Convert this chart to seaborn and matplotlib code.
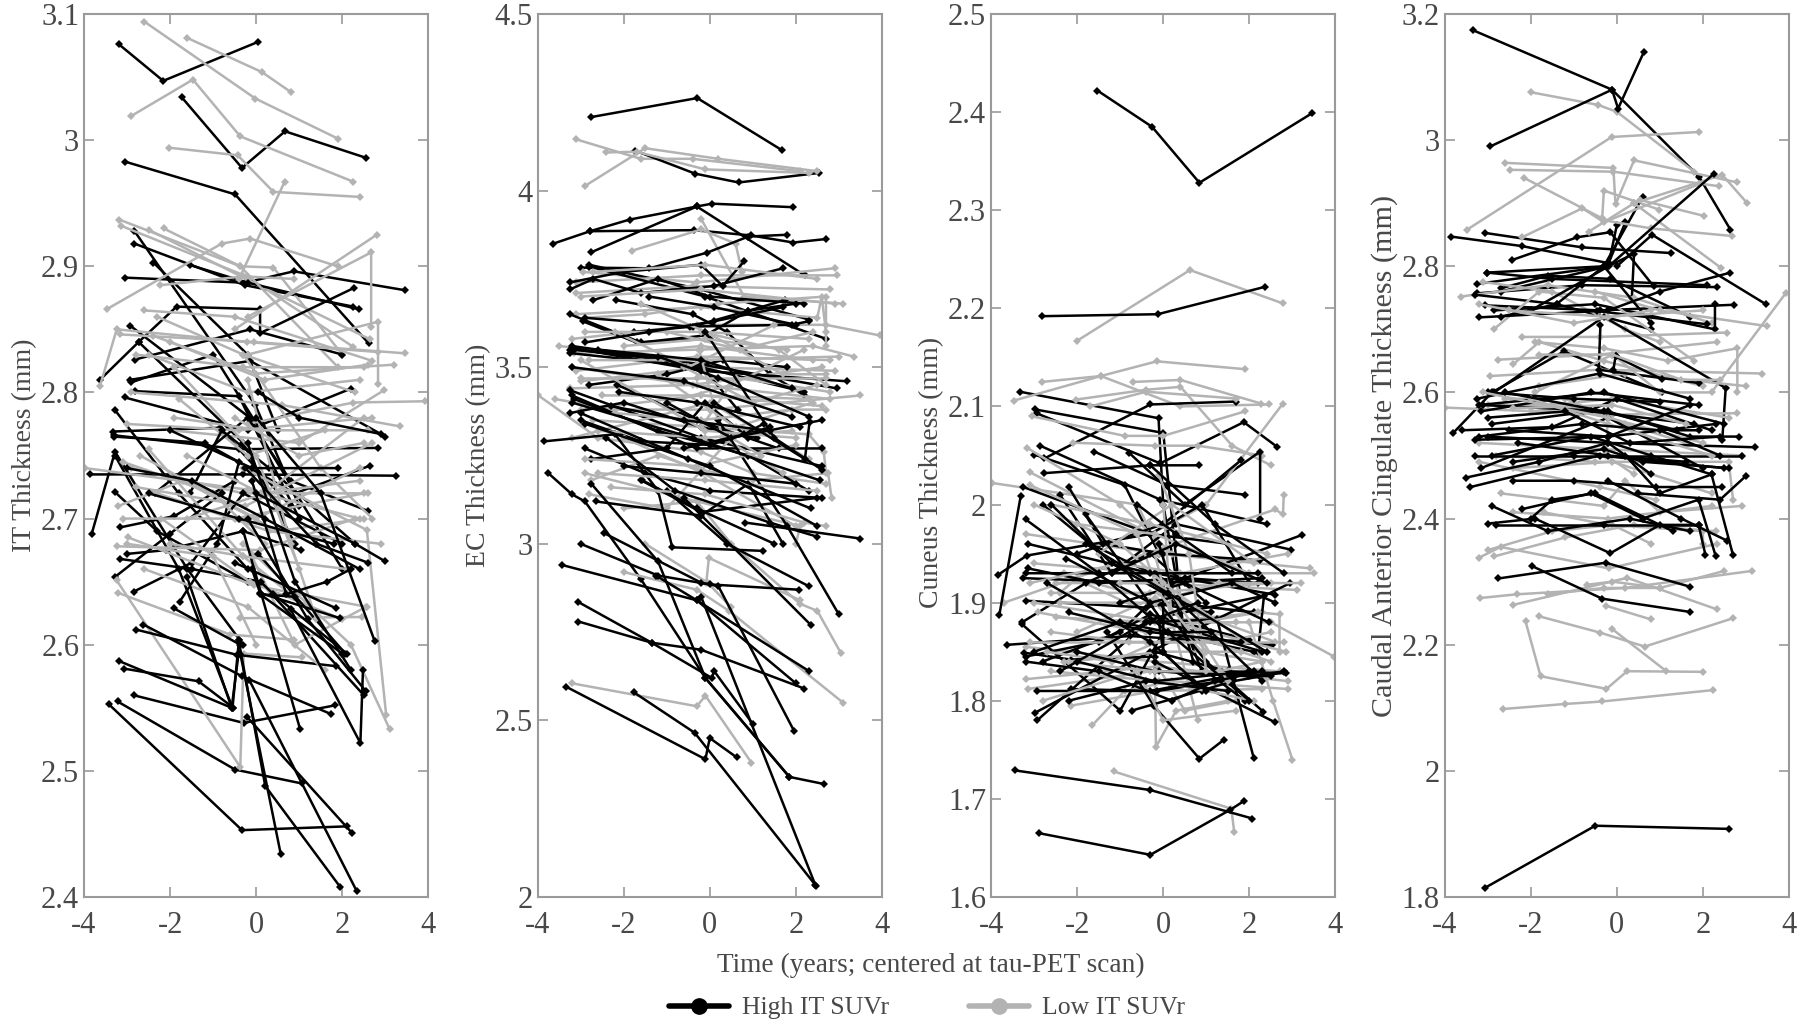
import matplotlib
matplotlib.use("Agg")
import matplotlib.pyplot as plt
from matplotlib.lines import Line2D
import pandas as pd
import seaborn as sns

# each subject: t1, y1, t2, y2, ...
it_high = [
    (-3.19,3.076,-2.16,3.047,0.05,3.078),
    (-1.73,3.034,-0.33,2.978,0.67,3.007,2.55,2.986),
    (-3.05,2.983,-0.49,2.957,2.61,2.839),
    (-2.83,2.928,-0.02,2.79,1.0,2.71),
    (-2.83,2.918,-0.26,2.885,2.26,2.868),
    (-2.39,2.903,-0.2,2.83,0.5,2.77),
    (-3.05,2.891,-0.26,2.887,0.87,2.896,3.46,2.881),
    (-1.54,2.901,-0.2,2.887,2.38,2.866),
    (-3.63,2.81,-2.73,2.84,-1.85,2.868,0.09,2.866,0.09,2.847,2.28,2.883),
    (-2.93,2.853,-0.15,2.78,2.0,2.66),
    (-2.73,2.84,-0.3,2.76,0.9,2.68),
    (-2.82,2.826,-0.14,2.85,2.0,2.83),
    (-2.93,2.81,-0.14,2.825,3.0,2.765),
    (-2.9,2.808,-1.0,2.83,0.1,2.77),
    (-2.81,2.801,-0.4,2.797,1.0,2.7),
    (-3.05,2.796,-0.2,2.77,2.2,2.803),
    (-3.28,2.786,-1.8,2.72,-0.2,2.66),
    (-3.33,2.769,-0.85,2.772,0.8,2.71),
    (-3.3,2.766,-0.4,2.755,2.82,2.756),
    (-3.3,2.765,-1.2,2.76,0.9,2.72,2.65,2.742),
    (-3.28,2.75,-1.8,2.66,-0.55,2.55,-0.4,2.604),
    (-3.82,2.688,-3.28,2.753,-1.6,2.66,-0.3,2.6),
    (-3.86,2.735,-0.3,2.735,3.24,2.734),
    (-3.28,2.721,-2.3,2.69,-0.2,2.65),
    (-2.36,2.72,-0.2,2.78,0.8,2.73,2.6,2.706),
    (-1.54,2.72,-0.8,2.77,0.3,2.74,2.3,2.68),
    (-3.16,2.693,-1.9,2.702,-0.5,2.73),
    (-3.16,2.668,-1.5,2.66,0.1,2.65,2.5,2.56),
    (-3.0,2.672,-2.1,2.675,-0.3,2.69,1.05,2.675),
    (-3.27,2.654,-2.0,2.688,-0.8,2.72),
    (-2.85,2.642,-1.5,2.665,-0.3,2.72,2.0,2.68),
    (-1.78,2.634,-0.9,2.68,-0.4,2.745),
    (-3.43,2.553,-0.33,2.453,2.11,2.456),
    (-3.22,2.555,-0.49,2.501,1.06,2.49),
    (-2.85,2.56,-0.29,2.538,1.84,2.552),
    (-3.18,2.587,-0.57,2.55,-0.41,2.593),
    (-3.06,2.581,-1.34,2.571,-0.53,2.55),
    (-2.79,2.612,-0.45,2.592,1.85,2.583),
    (-2.62,2.616,-0.33,2.575,1.74,2.545),
    (-0.41,2.604,0.21,2.488,1.95,2.408),
    (-0.16,2.572,2.33,2.405),
    (-0.37,2.593,0.57,2.434),
    (-0.22,2.543,2.22,2.451),
    (-1.61,2.654,-0.57,2.55),
    (-1.92,2.629,-0.37,2.6),
    (-0.3,2.69,1.02,2.533),
    (0.05,2.672,2.07,2.593),
    (0.09,2.64,2.0,2.593),
    (0.09,2.641,1.95,2.621),
    (-0.5,2.665,1.85,2.629),
    (0.8,2.628,2.42,2.522,2.48,2.58),
    (-0.2,2.7,1.2,2.62,2.55,2.563),
    (-0.25,2.74,1.4,2.68,2.6,2.665),
    (-0.2,2.76,0.9,2.65,2.2,2.58),
    (0.0,2.78,1.5,2.72,2.75,2.603),
    (0.0,2.72,2.3,2.68,3.0,2.666),
    (0.05,2.8,1.0,2.78,2.9,2.767),
    (-0.1,2.73,0.7,2.64,1.65,2.65,2.2,2.66),
    (-0.1,2.66,0.1,2.64,0.9,2.638),
    (0.1,2.65,0.4,2.64,2.1,2.593),
    (-2.5,2.72,-0.4,2.7,1.8,2.68),
    (-2.0,2.77,-0.1,2.74,1.9,2.74),
    (-3.0,2.74,-1.5,2.73,0.2,2.7,2.4,2.66),
]
it_low = [
    (-2.6,3.094,-0.02,3.033,1.91,3.001),
    (-1.6,3.081,0.13,3.054,0.81,3.038),
    (-2.91,3.019,-1.47,3.048,-0.37,3.003,2.26,2.967),
    (-2.02,2.994,-0.43,2.988,0.4,2.959,2.4,2.955),
    (-3.18,2.937,-0.37,2.9,0.4,2.899,2.0,2.83),
    (-3.13,2.932,-0.22,2.892,2.26,2.836),
    (-2.5,2.929,-0.18,2.889,2.65,2.842),
    (-2.15,2.93,-0.37,2.9,1.9,2.82),
    (-3.47,2.866,-0.8,2.918,-0.14,2.922,1.89,2.9),
    (-2.23,2.885,-0.3,2.892,0.87,2.89),
    (-0.4,2.89,0.66,2.967),
    (-0.5,2.85,2.8,2.925),
    (-0.2,2.86,2.67,2.911,2.67,2.852),
    (-3.63,2.805,-3.24,2.85,-0.22,2.84,2.84,2.832),
    (-0.2,2.83,2.83,2.856,2.83,2.807),
    (-3.16,2.846,-0.06,2.84,3.46,2.831),
    (-2.3,2.86,-0.3,2.83,2.3,2.8),
    (-2.6,2.865,-0.5,2.86,2.7,2.825),
    (-2.4,2.845,0.0,2.815,3.2,2.822),
    (-2.0,2.84,0.2,2.81,2.6,2.822),
    (-0.2,2.775,2.26,2.792,3.93,2.793),
    (-2.9,2.8,0.6,2.79,3.35,2.773),
    (-2.0,2.77,1.0,2.76,2.98,2.802),
    (-1.8,2.795,-0.2,2.75,1.6,2.77),
    (-3.0,2.775,-0.4,2.77,2.7,2.78),
    (-3.97,2.74,-0.22,2.723,2.4,2.7),
    (-3.2,2.71,-1.7,2.73,0.5,2.69,2.5,2.7),
    (-2.9,2.74,-0.3,2.72,2.6,2.72),
    (-2.7,2.75,0.0,2.7,2.4,2.74),
    (-2.8,2.725,-0.25,2.71,2.7,2.76),
    (-2.5,2.755,-0.3,2.67,0.8,2.64),
    (-3.1,2.745,-1.0,2.72,0.2,2.68),
    (-3.24,2.678,0.09,2.675,2.3,2.7),
    (-2.97,2.685,-0.06,2.647,2.57,2.63),
    (-3.24,2.651,-0.37,2.503,-0.29,2.593,1.06,2.59),
    (-3.2,2.641,-0.6,2.608,0.87,2.604),
    (-0.37,2.621,2.46,2.622),
    (-0.3,2.74,2.57,2.691,3.02,2.544),
    (-0.3,2.68,2.2,2.6,3.1,2.533),
    (-0.1,2.67,0.9,2.6,2.55,2.63),
    (-3.0,2.68,-1.0,2.67,0.0,2.6),
    (-2.6,2.66,-0.2,2.63,1.6,2.58),
    (-2.2,2.7,-0.15,2.65,2.0,2.62),
    (-3.1,2.7,-0.5,2.7,2.5,2.72),
    (-2.3,2.72,0.3,2.69,2.9,2.68),
    (-1.6,2.75,0.1,2.72,2.4,2.73),
    (-0.5,2.78,1.0,2.75,2.5,2.76),
    (-0.3,2.83,1.5,2.74,2.7,2.7),
    (-0.2,2.81,0.8,2.68,1.4,2.62),
    (-1.9,2.82,0.0,2.75,1.0,2.66),
    (-2.0,2.68,-0.3,2.67,2.1,2.66),
    (-1.6,2.7,0.2,2.72,2.5,2.78),
    (-2.8,2.83,-0.3,2.82,2.5,2.82),
    (-2.5,2.83,-0.2,2.8,2.4,2.81),
    (-1.9,2.78,0.1,2.77,2.6,2.77),
]
ec_high = [
    (-2.76,4.208,-0.29,4.262,1.67,4.115),
    (-1.73,4.113,-0.34,4.048,0.67,4.023,2.54,4.05),
    (-3.63,3.85,-2.78,3.885,-1.86,3.918,-0.3,3.955,2.21,3.76),
    (-2.78,3.885,-0.36,3.888,0.96,3.873,1.94,3.853,2.71,3.863),
    (-2.76,3.825,-0.3,3.955,0.05,3.963,1.94,3.953),
    (-3.0,3.782,-1.4,3.78,-0.07,3.824,0.9,3.87,1.8,3.875),
    (-2.8,3.79,-0.2,3.72,2.3,3.635),
    (-2.8,3.785,-0.1,3.7,2.71,3.58),
    (-3.25,3.74,-2.0,3.77,-0.2,3.79,0.3,3.73,0.8,3.8),
    (-3.25,3.72,-2.7,3.75,-1.6,3.71,0.1,3.73,1.7,3.78),
    (-2.7,3.69,-1.2,3.75,0.0,3.7,2.2,3.68),
    (-2.18,3.69,-0.4,3.65,0.4,3.6,1.4,3.48,2.2,3.42),
    (-3.25,3.65,-1.6,3.57,-0.1,3.59,0.9,3.66,1.75,3.69),
    (-2.9,3.64,-0.45,3.615,1.9,3.62,2.3,3.63),
    (-2.95,3.63,-1.7,3.57,0.0,3.58),
    (-1.75,3.6,-0.4,3.615,0.9,3.66,2.0,3.68),
    (-3.2,3.56,-0.3,3.51,2.95,3.44),
    (-3.2,3.555,-0.2,3.49,3.2,3.46),
    (-3.25,3.54,-0.2,3.5,2.2,3.43),
    (-3.15,3.55,-1.0,3.52,-0.1,3.49,0.65,3.38),
    (-2.8,3.45,-1.0,3.48,0.3,3.52,1.8,3.5),
    (-2.15,3.45,-0.3,3.35,1.6,3.27),
    (-3.25,3.435,-0.2,3.3,2.6,3.22),
    (-3.2,3.42,-0.3,3.27,2.6,3.27),
    (-3.25,3.37,-2.0,3.4,-0.2,3.33,1.1,3.3),
    (-3.15,3.41,-1.2,3.32,0.9,3.25,2.3,3.15),
    (-3.0,3.35,-1.6,3.29,0.0,3.28,1.4,3.33),
    (-2.9,3.27,-1.5,3.2,0.0,3.15,2.6,3.13),
    (-3.85,3.29,-2.2,3.31,-1.2,3.15,-0.87,2.99,1.23,2.98),
    (-3.75,3.2,-3.2,3.14,-2.9,3.12,-1.6,2.9,-0.1,2.62,1.85,2.34,2.65,2.32),
    (-2.75,3.24,-1.0,3.27,-0.1,3.4,0.9,3.3),
    (-1.57,3.18,-0.3,3.1,1.5,3.0),
    (-2.65,3.12,-0.2,3.08,0.9,3.17,1.7,3.0),
    (-1.6,3.18,-0.2,3.09,2.5,3.13),
    (-1.0,3.15,0.4,3.0,2.3,2.88),
    (-0.6,3.13,2.35,2.77),
    (0.83,3.06,3.49,3.015),
    (0.2,3.35,1.8,3.05,3.0,2.8),
    (-3.0,3.0,-1.2,2.91,0.0,2.885,2.07,2.87),
    (-2.45,3.03,-0.2,2.89,0.2,2.88,1.96,2.47),
    (-3.43,2.94,-0.3,2.84,2.0,2.605),
    (-1.25,2.91,-0.3,2.84,2.3,2.64),
    (-3.05,2.835,-1.35,2.72,0.05,2.62,0.1,2.64,1.0,2.49),
    (-3.05,2.78,-1.35,2.72,-0.2,2.7,2.2,2.59),
    (-3.33,2.595,-0.1,2.39,0.0,2.45,0.63,2.395),
    (-1.77,2.58,-0.35,2.465,2.48,2.03),
    (-2.75,3.17,-1.2,2.95,-0.1,2.62,1.85,2.34),
    (-0.2,2.85,2.45,2.035),
    (0.1,3.4,2.21,3.24,2.32,3.345),
    (-0.6,3.27,0.8,3.31,1.25,3.34),
    (-0.1,3.6,1.5,3.3,2.6,3.21),
    (-1.0,3.4,0.5,3.3,2.6,3.35),
    (-3.2,3.4,-0.4,3.3,2.55,3.18),
    (-3.0,3.37,-0.5,3.24,2.35,3.1),
    (-2.9,3.34,0.0,3.22,2.5,3.05),
    (-2.1,3.43,-0.3,3.4,2.1,3.33),
    (-2.3,3.39,-0.6,3.35,1.4,3.32),
    (-3.2,3.5,-0.6,3.46,1.9,3.36),
    (-3.25,3.55,-1.2,3.53,0.2,3.47,2.3,3.36),
    (-2.6,3.55,-0.2,3.52,1.9,3.44),
    (-2.0,3.22,-0.2,3.2,2.0,3.17),
    (-2.4,3.3,-0.8,3.15,1.4,3.06,2.5,3.02),
    (-1.4,3.7,0.1,3.67,2.0,3.62),
    (-2.9,3.57,-1.4,3.6,0.1,3.63,1.7,3.67),
]
ec_low = [
    (-3.1,4.145,-1.6,4.09,-0.4,4.09,2.1,4.055),
    (-2.9,4.013,-1.5,4.12,0.2,4.09,2.5,4.055),
    (-2.4,4.108,-1.7,4.11,-0.1,4.06,2.3,4.05),
    (-1.8,3.83,-0.2,3.89,0.6,3.85,0.75,3.77),
    (-0.2,3.92,0.8,3.7,3.1,3.68),
    (-2.95,3.77,-0.3,3.74,2.9,3.78),
    (-3.1,3.74,-0.2,3.76,2.95,3.76),
    (-3.1,3.71,-0.4,3.73,2.8,3.72),
    (-3.1,3.65,-0.2,3.67,2.5,3.64,2.6,3.7,2.7,3.6),
    (-2.9,3.64,-1.5,3.65,0.2,3.68,2.7,3.7,2.7,3.56),
    (-3.2,3.58,-0.3,3.62,2.7,3.62,3.95,3.59),
    (-3.5,3.56,-2.0,3.54,-0.2,3.56,2.4,3.52),
    (-3.15,3.54,-0.2,3.55,2.4,3.56,3.35,3.53),
    (-3.2,3.5,-0.4,3.45,2.6,3.5),
    (-3.1,3.49,-0.3,3.53,2.8,3.52),
    (-3.0,3.46,-0.2,3.5,2.9,3.49),
    (-3.25,3.44,-0.3,3.45,2.8,3.41),
    (-3.6,3.41,-2.2,3.38,0.0,3.38,3.5,3.42),
    (-3.98,3.42,-2.6,3.3,-0.2,3.26,1.0,3.2,2.7,3.17),
    (-3.0,3.38,-0.2,3.42,2.6,3.39),
    (-2.7,3.35,-0.1,3.33,2.3,3.31,2.65,3.26,2.7,3.2),
    (-2.75,3.18,-1.2,3.25,-0.2,3.21,1.0,3.18,2.75,3.2,2.83,3.13),
    (-3.2,3.3,0.0,3.4,2.3,3.24),
    (-2.8,3.14,-1.0,3.1,0.5,3.3,1.2,3.25),
    (-2.0,3.1,-0.3,3.12,2.1,3.05,2.0,3.0),
    (-0.25,3.55,0.3,3.3,1.7,3.2),
    (-0.2,3.6,1.6,3.55,2.7,3.45),
    (-1.6,3.68,-0.1,3.6,1.7,3.48,2.7,3.48),
    (-2.0,3.3,-0.15,3.2,2.0,3.05),
    (-2.9,3.2,-0.3,3.12,0.5,3.0,2.1,2.83,2.5,2.81,3.05,2.69),
    (-2.0,2.92,-0.3,2.87,0.45,2.81,3.1,2.55),
    (-0.08,2.89,-0.02,2.96,2.1,2.84),
    (-3.2,2.605,-0.3,2.54,-0.1,2.57,0.97,2.38),
    (-1.5,3.0,-0.05,2.89,0.5,2.82),
    (-1.0,3.4,0.5,3.45,2.2,3.55),
    (-1.2,3.48,0.6,3.33,2.4,3.4),
    (-0.2,3.33,0.6,3.47,2.8,3.43),
    (-2.2,3.6,-0.5,3.5,1.5,3.62),
    (-3.0,3.52,-0.1,3.32,2.0,3.3),
    (-3.0,3.7,-0.2,3.72,2.9,3.68),
    (-2.9,3.6,-0.1,3.6,2.3,3.58),
    (-2.8,3.52,-0.3,3.52,3.0,3.53),
    (-3.0,3.47,-0.3,3.47,2.7,3.47),
    (-2.5,3.42,-0.2,3.42,2.3,3.41),
    (-2.2,3.37,-0.2,3.35,1.9,3.38,2.7,3.38),
    (-2.6,3.32,-0.1,3.3,1.9,3.32),
    (-2.9,3.24,-0.3,3.22,2.0,3.28),
    (-2.6,3.2,-0.1,3.18,2.5,3.15),
    (-2.3,3.16,-0.1,3.14,2.2,3.06,2.7,3.05),
    (-1.0,3.6,0.7,3.55,2.4,3.6),
    (-0.6,3.5,1.0,3.4,2.5,3.45),
    (-2.0,3.56,-0.1,3.58,1.8,3.55),
    (-2.7,3.77,-0.1,3.79,2.5,3.75),
]
cuneus_high = [
    (-1.53,2.422,-0.26,2.385,0.84,2.328,3.46,2.399),
    (-2.82,2.192,-0.13,2.194,2.37,2.222),
    (-3.33,2.115,-0.11,2.088,0.0,2.0,0.4,1.9),
    (-2.98,2.097,0.0,2.073,0.45,1.88,0.9,1.83),
    (-2.94,2.093,-0.07,2.042,1.87,2.084,2.64,2.059),
    (-2.76,2.047,-0.3,2.102,1.69,2.105),
    (-3.0,2.051,-0.9,2.02,-0.1,1.95),
    (-2.86,2.06,-0.07,2.005,2.41,1.98),
    (-1.6,2.054,0.09,2.02,1.9,2.01),
    (-0.8,2.053,0.5,2.0,2.25,2.054,2.25,1.985),
    (-2.76,2.032,-0.3,2.04,0.82,2.04),
    (-2.0,1.95,-0.0,1.98,1.8,2.045),
    (-3.26,2.018,-0.3,1.97,1.5,1.96),
    (-3.31,2.009,-3.81,1.887),
    (-3.85,1.928,-3.17,1.948,-0.3,1.97,0.9,2.0,2.0,1.92),
    (-2.8,2.0,-1.7,1.96,0.2,1.92,3.22,1.969),
    (-2.4,2.01,-1.2,1.93,0.3,1.98,2.97,1.954),
    (-2.2,2.018,-1.4,1.96,0.0,1.95,2.25,1.943),
    (-3.2,1.93,-0.2,1.93,2.6,1.908),
    (-3.25,1.925,-0.2,1.92,2.3,1.925),
    (-3.15,1.935,-1.5,1.92,0.5,1.925,2.2,1.92),
    (-3.2,1.902,-0.4,1.895,0.2,1.9,2.1,1.89),
    (-3.28,1.88,-1.8,1.92,-0.3,1.95,1.0,1.9),
    (-3.28,1.878,-1.0,1.79,0.0,1.87,2.1,1.85),
    (-3.64,1.857,-0.77,1.866,2.53,1.857),
    (-3.23,1.849,-2.15,1.842,-0.2,1.845),
    (-3.2,1.845,-1.5,1.86,-0.3,1.888,2.0,1.862),
    (-2.8,1.84,-1.0,1.87,-0.3,1.9,1.1,1.89),
    (-2.93,1.78,-0.3,1.883,2.34,1.907,2.2,1.85),
    (-2.97,1.788,-0.3,1.85,2.95,1.92),
    (-2.93,1.81,-0.15,1.81,1.63,1.822),
    (-2.15,1.812,-0.3,1.81,2.1,1.83),
    (-0.73,1.79,1.63,1.82,2.8,1.829),
    (-3.44,1.729,-0.3,1.709,2.07,1.68),
    (-2.88,1.665,-0.3,1.643,1.56,1.689,1.88,1.698),
    (-1.3,1.87,-0.22,1.795,0.84,1.741,1.4,1.76),
    (-0.4,1.88,1.25,1.883,2.1,1.742),
    (-0.2,1.84,2.6,1.778),
    (-0.1,1.9,1.0,1.84,2.32,1.789),
    (-0.2,1.85,1.5,1.83,2.85,1.828),
    (-0.1,1.83,2.0,1.825,2.8,1.83),
    (-2.0,1.85,-0.2,1.83,2.5,1.825),
    (-0.1,1.96,0.7,1.84,1.9,1.8),
    (0.0,1.92,0.0,1.85,0.9,1.81),
    (-2.25,1.945,-0.3,1.9,1.6,1.92,2.6,1.9),
    (-0.3,1.88,-0.1,1.88,0.0,1.85),
    (-1.0,1.9,0.5,1.92,2.45,1.88),
    (-1.8,1.99,0.0,1.88,2.3,1.85),
    (-3.2,1.985,-1.5,1.93,0.1,1.87,2.0,1.8),
    (-2.6,2.0,-1.2,1.94,0.4,1.9,2.3,1.82),
    (-3.15,1.96,-0.3,1.93,2.2,1.93),
    (-2.7,1.92,-0.3,1.86,1.0,1.81),
    (-2.2,1.89,-0.3,1.87,1.8,1.86),
    (-1.8,1.96,0.1,1.91,2.4,1.85),
    (-3.0,1.85,-1.0,1.88,0.1,1.87,1.1,1.87),
    (-2.4,1.83,-0.4,1.88,0.8,1.9),
    (-2.0,1.84,-0.2,1.82,2.0,1.83),
    (-3.2,1.84,-1.5,1.83,0.2,1.8,1.2,1.82,2.3,1.83),
    (-2.2,1.8,-0.4,1.82,1.5,1.81),
    (-1.2,1.93,0.3,1.96,2.4,1.92),
    (-0.6,2.0,0.3,1.97,1.6,1.93),
    (-0.3,2.04,1.2,1.98,2.8,1.93),
]
cuneus_low = [
    (-2.0,2.167,0.62,2.239,2.78,2.205),
    (-2.82,2.125,-1.45,2.131,-0.15,2.146,1.9,2.138),
    (-3.47,2.106,-1.45,2.131,0.4,2.1,2.45,2.102),
    (-0.7,2.125,0.4,2.127,2.27,2.103),
    (-2.03,2.107,-0.4,2.117,0.4,2.12,1.6,2.06,2.5,2.04),
    (-1.7,2.1,-0.4,2.115,1.7,2.108),
    (-3.05,2.09,-0.9,2.07,0.0,2.07,1.9,2.095),
    (-2.1,2.063,-0.2,2.06,0.8,2.06,2.3,2.05),
    (-3.17,2.058,-1.0,2.0,0.2,1.95),
    (-3.1,2.033,-0.3,1.97,1.0,2.0,2.78,2.103),
    (-3.98,2.022,-0.6,2.0,0.5,1.9),
    (-3.7,1.9,-0.4,1.95,2.6,1.995,2.78,1.99,2.8,2.01),
    (-3.2,1.97,-0.1,1.95,3.4,1.935),
    (-3.0,1.94,-0.2,1.93,3.5,1.93),
    (-2.5,1.92,-0.3,1.92,3.1,1.913),
    (-2.4,1.91,-2.0,1.925,0.0,1.9,2.7,1.888,2.7,1.85),
    (-2.3,1.93,0.1,1.88,2.5,1.88,3.97,1.845),
    (-2.5,1.885,-0.2,1.88,2.3,1.89),
    (-2.0,1.87,-0.2,1.905,2.6,1.86),
    (-3.2,1.855,-0.2,1.84,2.7,1.83),
    (-3.2,1.822,-0.15,1.835,2.9,1.82),
    (-3.15,1.812,-0.3,1.83,2.3,1.83),
    (-2.15,1.795,-0.2,1.81,2.3,1.812),
    (-1.65,1.775,-0.9,1.81,0.2,1.82,2.9,1.812),
    (-0.2,1.85,-0.17,1.753,0.3,1.79,1.5,1.8),
    (-0.2,1.84,0.5,1.79,1.7,1.8),
    (-1.15,1.728,1.58,1.69,1.65,1.666),
    (-0.2,1.95,0.8,1.78),
    (2.0,1.88,2.55,1.8,3.0,1.74),
    (-0.2,1.9,0.9,1.85,2.3,1.84),
    (0.0,2.0,0.2,1.88,2.85,1.85),
    (-2.6,2.0,-0.3,1.98,2.4,1.95),
    (-2.0,1.98,-0.2,1.97,2.0,1.93),
    (-1.5,1.95,0.2,2.0,2.1,1.94),
    (-3.0,1.9,-0.1,1.88,1.7,1.88),
    (-2.7,1.85,-1.2,1.84,0.4,1.87,2.5,1.84),
    (-2.2,1.84,0.0,1.85,1.8,1.85),
    (-3.1,1.92,-1.0,1.94,0.4,1.93,2.9,1.95),
    (-2.6,1.91,-0.3,1.91,2.5,1.92),
    (-2.4,1.9,-0.2,1.9,1.3,1.92,3.2,1.92),
    (-2.9,1.89,-0.4,1.87,2.2,1.89),
    (-2.6,1.87,-0.8,1.86,1.4,1.86,2.5,1.87),
    (-3.1,1.86,-0.4,1.86,2.8,1.86),
    (-2.3,1.84,-0.2,1.83,1.3,1.83,2.3,1.84),
    (-2.8,1.8,-0.6,1.83,0.0,1.78,1.7,1.79),
    (-2.6,1.83,-0.1,1.82,2.1,1.8),
    (-3.0,2.0,-1.0,1.96,0.0,1.92,1.9,1.86),
    (-3.1,2.02,-0.6,1.97,-0.1,1.91,1.0,1.85),
    (-0.1,2.03,0.6,1.95,1.0,1.83),
    (-1.0,1.92,-0.2,1.92,0.2,1.91,1.5,1.82),
]
cing_high = [
    (-3.33,3.174,-0.11,3.08,1.91,2.942,2.64,2.858),
    (-2.94,2.99,-0.11,3.08,0.03,3.05,0.63,3.14),
    (-3.84,2.847,-2.2,2.832,-0.19,2.805,0.2,2.87),
    (-3.07,2.853,-0.8,2.83,1.25,2.821),
    (-2.43,2.81,-0.92,2.846,-0.15,2.854,0.86,2.768),
    (-3.02,2.79,-0.3,2.8,0.6,2.91),
    (-3.02,2.79,-1.5,2.78,2.1,2.77),
    (-3.25,2.772,-0.2,2.8,0.0,2.865),
    (-2.7,2.765,-1.6,2.785,-0.15,2.78,1.7,2.72),
    (-2.7,2.76,-0.2,2.8,0.4,2.82,0.35,2.75),
    (-3.25,2.757,-0.8,2.77,2.33,2.767),
    (-3.3,2.755,-1.4,2.74,0.8,2.7),
    (-3.05,2.738,-0.4,2.73,2.72,2.739),
    (-2.85,2.73,-0.5,2.74,2.28,2.7,2.28,2.74),
    (-3.19,2.719,-0.46,2.729,2.1,2.708),
    (-2.7,2.72,-1.4,2.74,-0.3,2.8,0.8,2.71),
    (0.0,2.8,0.82,2.85,3.46,2.74),
    (-2.0,2.73,-0.19,2.8,2.26,2.947),
    (-3.81,2.535,-2.9,2.6,-1.23,2.665,1.05,2.6),
    (-2.85,2.6,-0.3,2.72,2.53,2.607,2.45,2.525),
    (-0.38,2.707,-0.42,2.636,1.9,2.615),
    (-0.03,2.657,1.05,2.621),
    (-0.08,2.635,-0.03,2.657),
    (-3.25,2.59,-0.4,2.63,1.7,2.59),
    (-3.2,2.58,-0.3,2.6,2.5,2.55),
    (-3.15,2.57,-0.6,2.6,1.9,2.58),
    (-3.0,2.6,-1.0,2.59,1.0,2.585),
    (-3.1,2.58,-0.2,2.57,1.7,2.53,2.84,2.53),
    (-3.6,2.54,-1.5,2.545,0.0,2.59,2.2,2.54),
    (-2.9,2.55,-0.6,2.57,1.8,2.55),
    (-3.3,2.525,-0.2,2.53,2.3,2.55),
    (-3.0,2.53,-0.2,2.52,3.22,2.513),
    (-3.3,2.5,-1.0,2.5,2.9,2.5),
    (-3.15,2.48,-0.2,2.56,2.0,2.48),
    (-2.4,2.49,-0.3,2.51,0.6,2.49,2.6,2.48),
    (-3.5,2.465,-1.8,2.49,-0.2,2.52,0.8,2.47),
    (-3.4,2.45,-0.4,2.5,2.5,2.48),
    (-2.4,2.46,-1.0,2.46,0.9,2.45,2.45,2.45),
    (-2.9,2.42,-1.6,2.38,0.3,2.4,1.7,2.38),
    (-2.2,2.415,-0.6,2.44,0.6,2.4,1.9,2.43,2.3,2.34),
    (-2.0,2.4,-1.5,2.43,-0.5,2.44,1.3,2.38),
    (-3.0,2.392,-1.9,2.4,-0.15,2.345,1.0,2.39,1.9,2.39,2.06,2.342),
    (-2.8,2.39,-0.3,2.39,1.9,2.39),
    (0.2,2.5,1.0,2.44,2.2,2.47,2.7,2.342),
    (-0.2,2.46,1.5,2.4,2.56,2.365),
    (0.5,2.44,2.4,2.43,2.99,2.467),
    (-2.75,2.305,-0.26,2.33,1.7,2.292),
    (-1.98,2.325,-0.34,2.273,1.7,2.252),
    (-3.05,1.815,-0.5,1.913,2.6,1.908),
    (-0.2,2.73,1.0,2.76,2.64,2.79),
    (-3.2,2.53,-0.8,2.55,1.0,2.54,2.4,2.5),
    (-3.0,2.56,-1.2,2.57,0.3,2.52,2.4,2.53),
    (-2.5,2.54,-0.2,2.53,1.7,2.58),
    (-2.3,2.52,-0.2,2.5,1.6,2.49),
    (-2.9,2.5,-0.6,2.53,0.8,2.5,2.2,2.47),
    (-2.6,2.6,-0.3,2.57,1.4,2.54,1.9,2.54),
]
cing_low = [
    (-2.0,3.076,-0.44,3.056,0.0,3.045,1.8,2.95),
    (-3.48,2.858,-0.12,3.005,1.92,3.013),
    (-2.59,2.964,-0.08,2.956,-0.03,2.898,0.4,2.968,2.8,2.933),
    (-2.49,2.953,-0.08,2.95,2.37,2.927),
    (-2.15,2.94,-0.34,2.876,-0.3,2.92,0.98,2.89),
    (-2.2,2.846,-0.8,2.892,-0.3,2.87,1.9,2.93),
    (-0.65,2.855,0.4,2.9,2.45,2.945,3.03,2.9),
    (0.55,2.905,2.02,2.88),
    (-0.3,2.873,0.8,2.86,2.68,2.848),
    (0.4,2.9,2.43,2.797),
    (-3.63,2.752,-1.6,2.77,0.4,2.75,2.2,2.71),
    (-3.1,2.775,-1.5,2.76,0.2,2.7,1.0,2.68),
    (-0.5,2.76,1.0,2.73,3.5,2.705),
    (-2.86,2.7,-1.8,2.76,-0.3,2.75,1.8,2.65),
    (-2.2,2.688,-0.4,2.688,2.57,2.695),
    (-2.75,2.652,-0.4,2.66,2.33,2.68),
    (-1.9,2.68,-0.3,2.67,1.2,2.65,2.8,2.67,2.8,2.6),
    (-2.4,2.645,-1.8,2.68,-0.3,2.65,2.0,2.61),
    (-2.94,2.626,-0.4,2.636,3.38,2.63),
    (-1.8,2.61,0.2,2.63,3.0,2.61),
    (-1.9,2.6,-0.1,2.66,1.0,2.6,2.2,2.6,3.92,2.757),
    (-4.0,2.576,-0.1,2.565,2.8,2.567),
    (-3.0,2.58,-1.5,2.58,-0.1,2.59,2.6,2.56),
    (-2.6,2.59,-1.2,2.59,0.2,2.55,1.6,2.52),
    (-2.0,2.57,-0.2,2.58,-0.25,2.5,0.4,2.47),
    (-3.2,2.52,-0.3,2.51,2.9,2.5),
    (-2.8,2.5,-0.5,2.49,2.6,2.49,2.7,2.43),
    (-2.4,2.48,-0.1,2.49,2.2,2.44),
    (-3.2,2.49,-0.4,2.45,0.9,2.43),
    (-2.7,2.44,-0.3,2.42,0.2,2.46,1.0,2.41,2.9,2.42),
    (-2.4,2.41,-0.2,2.4,2.2,2.42),
    (-1.7,2.41,-0.2,2.39,2.0,2.38,2.0,2.36),
    (-3.2,2.338,-2.7,2.355,-0.19,2.321,2.33,2.36),
    (-3.0,2.35,-1.5,2.38,-0.1,2.39,0.8,2.36),
    (-2.85,2.34,-1.2,2.37,0.4,2.39,2.3,2.38),
    (-3.18,2.274,-2.31,2.28,0.2,2.29,3.14,2.317),
    (-2.42,2.263,0.24,2.306,2.33,2.256),
    (-1.6,2.28,-0.3,2.29,1.0,2.29,2.5,2.317),
    (-0.7,2.295,-0.1,2.3,1.0,2.29),
    (-2.12,2.237,-1.77,2.15,-0.24,2.13,0.24,2.158,2.0,2.157),
    (-1.8,2.245,-0.38,2.219,0.65,2.197,2.7,2.242),
    (-0.11,2.225,1.15,2.158),
    (-0.26,2.262,0.8,2.24),
    (-2.65,2.098,-1.21,2.106,-0.34,2.11,2.23,2.128),
    (-3.1,2.6,-0.2,2.56,2.0,2.52),
    (-2.4,2.575,-0.1,2.58,1.6,2.55),
    (-2.0,2.59,-0.2,2.55,2.2,2.5),
    (-1.8,2.66,-0.1,2.66,1.5,2.62,2.4,2.62),
    (-2.5,2.73,-0.2,2.72,2.0,2.73),
    (-3.2,2.74,-1.0,2.71,0.8,2.73),
]

panels = [
    ("IT Thickness (mm)", it_high, it_low, (2.4, 3.1), [2.4, 2.5, 2.6, 2.7, 2.8, 2.9, 3, 3.1]),
    ("EC Thickness (mm)", ec_high, ec_low, (2, 4.5), [2, 2.5, 3, 3.5, 4, 4.5]),
    ("Cuneus Thickness (mm)", cuneus_high, cuneus_low, (1.6, 2.5), [1.6, 1.7, 1.8, 1.9, 2, 2.1, 2.2, 2.3, 2.4, 2.5]),
    ("Caudal Anterior Cingulate Thickness (mm)", cing_high, cing_low, (1.8, 3.2), [1.8, 2, 2.2, 2.4, 2.6, 2.8, 3, 3.2]),
]
x_ticks = [-4, -2, 0, 2, 4]
# y label size and centre per panel (the original is not uniform)
label_sizes = [20, 20, 20, 21.7]
label_centres = [0.512, 0.5, 0.481, 0.5]
HIGH = "#000000"
LOW = "#b3b3b3"
TEXT = "#484848"
FRAME = "#9a9a9a"


def long_table(high, low):
    # black and grey are mixed in the draw order, so alternate them
    rows = []
    colours = {}
    for i in range(max(len(high), len(low))):
        for name, group, col in (("h", high, HIGH), ("l", low, LOW)):
            if i < len(group):
                sub = f"{name}{i}"
                colours[sub] = col
                vals = group[i]
                for t, y in zip(vals[::2], vals[1::2]):
                    rows.append({"subject": sub, "time": t, "thickness": y})
    return pd.DataFrame(rows), colours


sns.set_theme(style="ticks")
plt.rcParams["font.family"] = ["Liberation Serif", "DejaVu Serif"]
plt.rcParams["axes.linewidth"] = 1.5
plt.rcParams["axes.unicode_minus"] = False

fig, axes = plt.subplots(1, 4, figsize=(18, 10.3), dpi=100)
fig.subplots_adjust(left=84 / 1800, right=1789 / 1800, top=1 - 14 / 1030, bottom=1 - 897 / 1030, wspace=109 / 344)

for n, (ax, (label, high, low, ylim, yticks)) in enumerate(zip(axes, panels)):
    table, colours = long_table(high, low)
    sns.lineplot(data=table, x="time", y="thickness", hue="subject", hue_order=list(colours),
                 palette=colours, estimator=None, sort=False, errorbar=None, legend=False,
                 marker="D", markersize=4, markeredgewidth=0, linewidth=1.8, ax=ax)
    ax.set_xlim(-4, 4)
    ax.set_ylim(*ylim)
    ax.set_xticks(x_ticks)
    ax.set_yticks(yticks)
    ax.set_yticklabels([f"{v:g}" for v in yticks])
    ax.set_xlabel("")
    ax.set_ylabel(label, fontsize=label_sizes[n], color=TEXT)
    ax.yaxis.set_label_coords(-0.135, label_centres[n])
    ax.tick_params(direction="in", top=True, right=True, length=7, width=1.2, color=FRAME,
                   labelcolor=TEXT, labelsize=22)
    ax.tick_params(axis="x", pad=10)
    ax.tick_params(axis="y", pad=3.5)
    for spine in ax.spines.values():
        spine.set_visible(True)
        spine.set_color(FRAME)

fig.text(931 / 1800, 1 - 965 / 1030, "Time (years; centered at tau-PET scan)", ha="center", va="center",
         fontsize=19.7, color=TEXT)

handles = [
    Line2D([], [], color=HIGH, lw=4, marker="o", ms=11, label="High IT SUVr"),
    Line2D([], [], color=LOW, lw=4, marker="o", ms=11, label="Low IT SUVr"),
]
fig.legend(handles=handles, loc="center", bbox_to_anchor=(927 / 1800, 1 - 1008 / 1030), ncols=2, frameon=False,
           fontsize=18.5, labelcolor=TEXT, handlelength=2.35, handletextpad=0.5, columnspacing=3.1)

fig.savefig("out.png", dpi=100)
